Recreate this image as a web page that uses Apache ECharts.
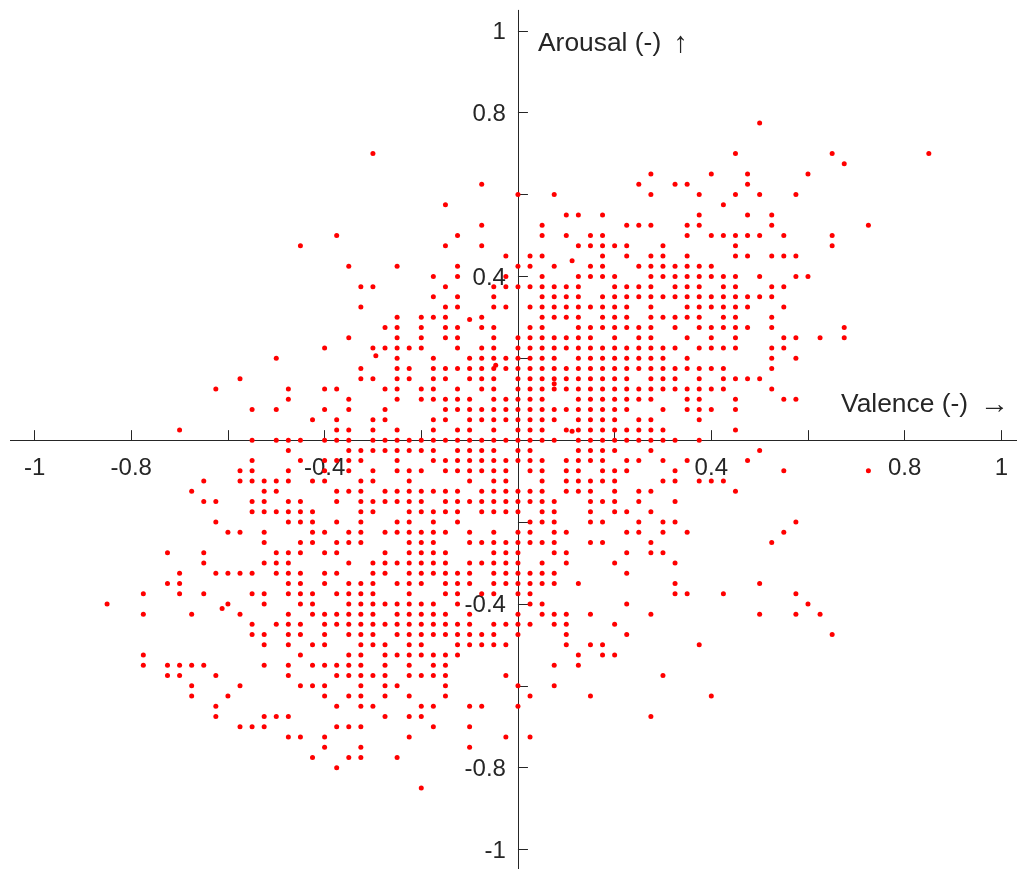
<!DOCTYPE html>
<html>
<head>
<meta charset="utf-8">
<script src="https://cdn.jsdelivr.net/npm/echarts@6/dist/echarts.min.js"></script>
<style>
  html, body { margin: 0; padding: 0; background: #ffffff; }
  #chart { width: 1017px; height: 869px; }
</style>
</head>
<body>
<div id="chart"></div>
<script>
// Ratings are recorded on a 1/40 grid: every stored integer is a multiple of STEP.
const STEP = 0.025;

// Arousal level of each row (in steps), top to bottom.
const arousalLevels = [
  31, 28, 27, 26, 25, 24, 23, 22, 21, 20, 19, 18, 17, 16, 15, 14, 13, 12, 11, 10,
  9, 8, 7, 6, 5, 4, 3, 2, 1, 0, -1, -2, -3, -4, -5, -6, -7, -8, -9, -10,
  -11, -12, -13, -14, -15, -16, -17, -18, -19, -20, -21, -22, -23, -24, -25, -26,
  -27, -28, -29, -30, -31, -32, -34
];

// Valence values (in steps) rated at each arousal level above.
const valenceAtLevel = [
  [20],
  [-12, 18, 26, 34],
  [27],
  [11, 16, 19, 24],
  [-3, 10, 13, 14, 19],
  [0, 3, 11, 15, 18, 20, 23],
  [-6, 17],
  [4, 5, 7, 15, 19, 21],
  [-3, 2, 9, 10, 11, 14, 15, 21, 29],
  [-15, -5, 2, 4, 6, 7, 14, 16, 17, 18, 19, 20, 22, 26],
  [-18, -6, -3, 5, 6, 7, 8, 9, 12, 18, 26],
  [-1, 1, 2, 7, 9, 11, 12, 14, 18, 19, 21, 22, 23],
  [-14, -10, -5, 0, 1, 3, 6, 7, 10, 11, 12, 13, 14, 15, 16],
  [-7, -5, -1, 2, 5, 6, 7, 8, 11, 12, 13, 14, 15, 16, 17, 18, 20, 23, 24],
  [-13, -12, -6, -2, -1, 0, 1, 2, 3, 4, 5, 8, 9, 10, 11, 13, 14, 15, 17, 18, 21, 22],
  [-7, -5, -2, 2, 3, 4, 5, 7, 8, 9, 10, 11, 12, 13, 14, 15, 16, 17, 18, 19, 20, 21],
  [-13, -6, -5, -2, -1, 1, 2, 3, 4, 5, 6, 7, 8, 9, 11, 14, 15, 16, 17, 18, 19, 22],
  [-10, -8, -7, -6, -3, 2, 3, 4, 5, 7, 8, 9, 11, 12, 13, 14, 15, 17, 18, 21],
  [-11, -10, -8, -6, -5, -3, -2, 1, 2, 5, 6, 7, 8, 9, 10, 11, 13, 15, 16, 17, 18, 19, 21, 27],
  [-14, -10, -8, -6, -5, -2, 0, 1, 2, 3, 4, 5, 6, 8, 10, 11, 14, 16, 18, 22, 23, 25, 27],
  [-16, -12, -11, -10, -9, -8, -5, -3, -2, 0, 1, 2, 3, 4, 5, 6, 7, 8, 9, 10, 11, 12, 13, 15, 16, 17, 18, 21, 22],
  [-20, -10, -7, -4, -3, -2, -1, 0, 1, 2, 3, 5, 6, 7, 8, 9, 10, 11, 12, 14, 21, 23],
  [-13, -10, -9, -7, -6, -5, -4, -3, -2, -1, 0, 1, 2, 3, 4, 5, 6, 7, 8, 9, 10, 11, 12, 13, 14, 15, 16, 17, 21],
  [-23, -13, -12, -10, -9, -7, -6, -4, -3, -2, 0, 1, 2, 3, 4, 5, 6, 7, 8, 9, 11, 12, 13, 15, 17, 18, 19, 20],
  [-25, -19, -16, -15, -11, -10, -8, -7, -5, -3, -2, 0, 1, 2, 3, 4, 5, 6, 7, 8, 9, 10, 11, 12, 13, 14, 15, 16, 17, 21],
  [-19, -14, -10, -8, -7, -6, -5, -4, -2, -1, 0, 1, 2, 5, 6, 7, 8, 9, 10, 11, 14, 15, 18, 22, 23],
  [-22, -20, -16, -14, -11, -6, -5, -4, -3, -2, -1, 0, 1, 2, 3, 4, 5, 6, 7, 8, 9, 12, 14, 15, 16, 18],
  [-17, -15, -12, -11, -7, -6, -4, -3, -2, -1, 0, 1, 2, 3, 5, 6, 7, 8, 10, 11, 15],
  [-28, -15, -14, -12, -10, -7, -5, -4, -2, 0, 1, 2, 4, 5, 6, 7, 8, 9, 10, 11, 12, 18],
  [-22, -20, -19, -18, -16, -15, -14, -12, -11, -10, -9, -8, -7, -6, -5, -4, -3, -2, -1, 0, 1, 2, 3, 5, 6, 7, 8, 9, 10, 11, 12, 13, 15],
  [-19, -14, -13, -12, -11, -10, -9, -8, -7, -5, -4, -3, -2, 0, 1, 5, 6, 7, 8, 11, 20],
  [-22, -18, -16, -15, -14, -13, -10, -7, -6, -5, -4, -3, -2, -1, 0, 1, 2, 4, 5, 6, 7, 9, 10, 12, 14, 19],
  [-23, -22, -19, -16, -14, -12, -10, -9, -8, -6, -5, -4, -3, -2, -1, 1, 2, 4, 5, 7, 8, 9, 13, 22, 29],
  [-26, -23, -22, -21, -20, -19, -17, -16, -13, -12, -9, -4, -2, -1, 2, 4, 5, 6, 7, 8, 12, 13, 15, 16, 17],
  [-27, -21, -20, -15, -14, -13, -11, -10, -9, -8, -7, -6, -5, -3, -2, -1, 0, 1, 2, 4, 5, 6, 8, 10, 11, 18],
  [-26, -25, -22, -21, -19, -18, -15, -13, -12, -11, -10, -9, -8, -6, -5, -4, -3, -2, -1, 0, 1, 2, 3, 6, 7, 8, 10, 13],
  [-22, -21, -20, -19, -18, -17, -13, -12, -9, -8, -7, -6, -5, -3, -2, -1, 0, 2, 3, 6, 8, 9, 11],
  [-25, -19, -18, -17, -15, -13, -10, -9, -7, -5, 1, 2, 3, 6, 7, 10, 12, 13, 23],
  [-24, -23, -21, -17, -16, -14, -13, -11, -10, -9, -8, -7, -6, -4, -2, 0, 1, 3, 4, 9, 10, 12, 14, 22],
  [-21, -18, -17, -15, -14, -13, -9, -8, -7, -4, -3, -2, -1, 0, 1, 2, 3, 6, 7, 11, 21],
  [-29, -26, -20, -19, -18, -16, -15, -11, -9, -8, -7, -6, -2, -1, 0, 3, 4, 9, 11, 12],
  [-26, -21, -20, -19, -14, -12, -11, -10, -9, -8, -7, -6, -4, -3, -2, -1, 0, 2, 4, 8, 13],
  [-28, -25, -24, -23, -22, -20, -19, -18, -16, -15, -12, -11, -9, -8, -7, -6, -5, -4, -2, -1, 0, 1, 2, 3, 9],
  [-29, -28, -19, -18, -16, -14, -13, -12, -10, -9, -8, -6, -5, -4, -2, -1, 0, 1, 2, 3, 5, 13, 20],
  [-31, -28, -26, -22, -21, -19, -18, -17, -15, -14, -13, -12, -9, -6, -5, -3, -2, 0, 1, 13, 14, 17, 23],
  [-34, -24, -21, -18, -17, -14, -13, -12, -11, -10, -9, -8, -7, -5, 1, 2, 9, 24],
  [-31, -27, -23, -19, -17, -16, -15, -14, -13, -12, -10, -9, -8, -7, -6, -4, 0, 2, 3, 4, 6, 11, 20, 23, 25],
  [-22, -20, -19, -18, -16, -15, -14, -13, -12, -11, -10, -9, -8, -7, -6, -5, -4, -2, -1, 0, 1, 3, 4, 8],
  [-22, -21, -19, -18, -16, -14, -13, -12, -10, -9, -8, -7, -6, -5, -4, -3, -2, 0, 4, 9, 26],
  [-21, -19, -17, -16, -13, -12, -11, -9, -8, -5, -4, -3, -2, -1, 4, 6, 7, 15],
  [-31, -18, -14, -13, -11, -10, -9, -8, -7, -6, -5, 5, 7, 8],
  [-31, -29, -28, -27, -26, -21, -19, -17, -16, -15, -14, -13, -11, -9, -7, -6, 3, 5],
  [-29, -28, -25, -19, -15, -14, -13, -12, -11, -9, -8, -7, -6, -1, 12],
  [-27, -23, -18, -17, -16, -13, -11, -10, -6, 0, 3],
  [-27, -24, -16, -14, -13, -11, -9, -6, 1, 6, 16],
  [-25, -15, -13, -12, -8, -7, -4, -3, 0],
  [-25, -21, -20, -19, -11, -9, -8, 11],
  [-23, -22, -21, -15, -14, -13, -7, -4],
  [-19, -18, -16, -9, -1, 1],
  [-16, -13, -4],
  [-17, -14, -13, -10],
  [-15],
  [-8]
];

// A few ratings that fall between grid steps: [valence, arousal].
const offGridPoints = [
  [0.112, 0.438],
  [-0.294, 0.206],
  [-0.100, 0.295],
  [-0.046, 0.183],
  [0.075, 0.138],
  [0.112, 0.022],
  [-0.612, -0.411]
];

// Axis ticks and the labelled subset of them.
const tickValues = [-1, -0.8, -0.6, -0.4, -0.2, 0.2, 0.4, 0.6, 0.8, 1];
const xLabelValues = [-1, -0.8, -0.4, 0.4, 0.8, 1];
const yLabelValues = [-1, -0.8, -0.4, 0.4, 0.8, 1];

const points = [];
arousalLevels.forEach(function (a, row) {
  valenceAtLevel[row].forEach(function (v) {
    points.push([+(v * STEP).toFixed(3), +(a * STEP).toFixed(3)]);
  });
});
offGridPoints.forEach(function (p) { points.push(p); });

const FONT = '"Liberation Sans", Arial, Helvetica, sans-serif';
const INK = '#262626';
const LABEL_SIZE = 24;
const TITLE_SIZE = 26.4;

const chart = echarts.init(document.getElementById('chart'), null, { renderer: 'canvas' });

function axisCommon() {
  return {
    type: 'value',
    min: -1.05,
    max: 1.05,
    axisLine: { show: true, onZero: true, lineStyle: { color: INK, width: 1 } },
    axisTick: {
      show: true,
      inside: true,
      length: 10,
      customValues: tickValues,
      lineStyle: { color: INK, width: 1 }
    },
    axisLabel: { show: false },
    splitLine: { show: false }
  };
}

chart.setOption({
  animation: false,
  backgroundColor: '#ffffff',
  grid: {
    left: 10.4,
    top: 10.3,
    width: 1015.1,
    height: 859.7,
    containLabel: false,
    outerBoundsMode: 'none'
  },
  xAxis: axisCommon(),
  yAxis: axisCommon(),
  series: [{
    type: 'scatter',
    data: points,
    symbol: 'circle',
    symbolSize: 5,
    z: 3,
    itemStyle: { color: '#ff0000', opacity: 1 },
    silent: true
  }]
});

// Tick labels sit beside the axes that cross at the origin; place them
// through the chart's own coordinate conversion, beneath the dots.
function toPixel(v, a) {
  return chart.convertToPixel({ xAxisIndex: 0, yAxisIndex: 0 }, [v, a]);
}

const labelText = [];
xLabelValues.forEach(function (v) {
  const p = toPixel(v, 0);
  labelText.push({
    type: 'text',
    x: p[0],
    y: p[1] + 28.5,
    z: 1,
    style: {
      text: String(v),
      fontSize: LABEL_SIZE,
      fontFamily: FONT,
      fill: INK,
      align: 'center',
      verticalAlign: 'middle'
    }
  });
});
yLabelValues.forEach(function (a) {
  const p = toPixel(0, a);
  labelText.push({
    type: 'text',
    x: p[0] - 12,
    y: p[1] + 1.5,
    z: 1,
    style: {
      text: String(a),
      fontSize: LABEL_SIZE,
      fontFamily: FONT,
      fill: INK,
      align: 'right',
      verticalAlign: 'middle'
    }
  });
});

function axisTitle(x, y, word, arrow) {
  return {
    type: 'text',
    x: x,
    y: y,
    z: 1,
    style: {
      text: '{w|' + word + '}{a|' + arrow + '}',
      fontSize: TITLE_SIZE,
      fontFamily: FONT,
      fill: INK,
      verticalAlign: 'middle',
      rich: {
        w: { fontSize: TITLE_SIZE, fontFamily: FONT, fill: INK },
        a: { fontSize: 29, fontFamily: FONT, fill: INK, padding: [0, 0, 0, 12] }
      }
    }
  };
}

chart.setOption({
  graphic: labelText.concat([
    axisTitle(538, 43.5, 'Arousal (-)', '\u2191'),
    axisTitle(841, 405, 'Valence (-)', '\u2192')
  ])
});
</script>
</body>
</html>
